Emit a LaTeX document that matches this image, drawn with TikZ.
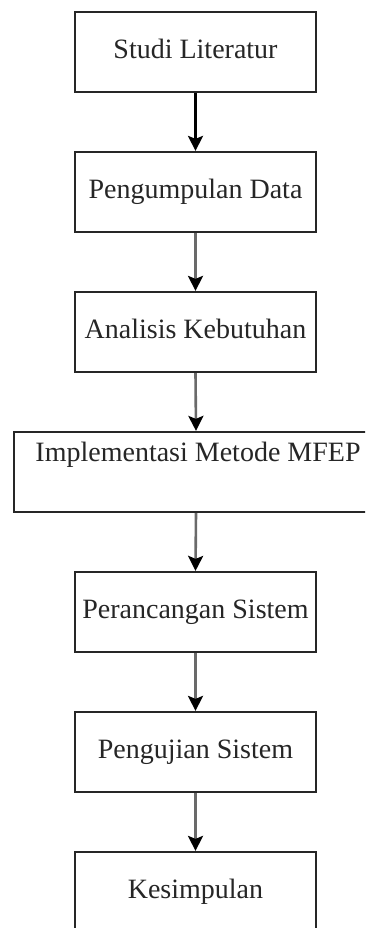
\documentclass[tikz,border=0pt]{standalone}
\usepackage{fontspec}
\setmainfont{Liberation Serif}
\usetikzlibrary{arrows.meta}
\definecolor{linegray}{HTML}{6A6A6A}
\begin{document}
\begin{tikzpicture}[x=1pt,y=-1pt,
  box/.style={draw=black!85, line width=2.2pt, fill=white, minimum width=241pt, minimum height=80pt, inner sep=0pt, font=\fontsize{28}{32}\selectfont, text=black!85, text height=19pt, text depth=6pt},
  txt/.style={inner sep=0pt, font=\fontsize{28}{32}\selectfont, text=black!85, text height=19pt, text depth=6pt},
  flow/.style={draw=linegray, line width=2.6pt, -{Stealth[black, length=15pt, width=15pt, inset=3pt]}},
  flowb/.style={flow, draw=black}]
\useasboundingbox (0,0) rectangle (365,928);
\clip (0,0) rectangle (365,928);
\fill[white] (0,0) rectangle (365,928);
\node[box] (b1) at (195.5,52) {Studi Literatur};
\node[box] (b2) at (195.5,192) {Pengumpulan Data};
\node[box] (b3) at (195.5,332) {Analisis Kebutuhan};
\node[box, minimum width=364pt] (b4) at (196,472) {};
\node[txt] (t4) at (198,455) {Implementasi Metode MFEP};
\node[box] (b5) at (195.5,612) {Perancangan Sistem};
\node[box] (b6) at (195.5,752) {Pengujian Sistem};
\node[box] (b7) at (195.5,892) {Kesimpulan};
\draw[flowb] (b1.south) -- (b2.north);
\draw[flow] (b2.south) -- (b3.north);
\draw[flow] (b3.south) -- (b4.north);
\draw[flow] (b4.south) -- (b5.north);
\draw[flow] (b5.south) -- (b6.north);
\draw[flow] (b6.south) -- (b7.north);
\end{tikzpicture}
\end{document}
